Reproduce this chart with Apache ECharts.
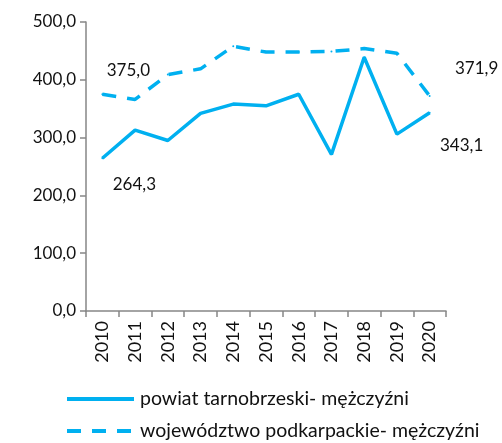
<!DOCTYPE html>
<html>
<head>
<meta charset="utf-8">
<script src="https://cdn.jsdelivr.net/npm/echarts@6/dist/echarts.min.js"></script>
<style>html,body{margin:0;padding:0;background:#fff}#c{width:502px;height:443px}</style>
</head>
<body>
<div id="c"></div>
<script>
const years = ['2010','2011','2012','2013','2014','2015','2016','2017','2018','2019','2020'];
const powiat = [264.3, 313, 295, 342, 358, 355, 375, 271, 439, 306, 343.1];
const wojewodztwo = [375.0, 366, 409, 419, 458, 448, 448, 449, 454, 446, 371.9];
const yTicks = [0, 100, 200, 300, 400, 500];
const seriesNames = ['powiat tarnobrzeski- mężczyźni', 'województwo podkarpackie- mężczyźni'];

const FONT = 'Lato, "Open Sans", sans-serif';
const COLOR = '#00B0F0';
const TEXT = '#111';
const fmt = v => v.toFixed(1).replace('.', ',');

// values labelled at the first and last year of each series
function labelled(values, firstOffset, lastOffset) {
  return values.map((v, i) => {
    if (i === 0 || i === values.length - 1) {
      return {
        value: v,
        label: {
          show: true, position: 'inside',
          offset: i === 0 ? firstOffset : lastOffset,
          formatter: p => fmt(p.value),
          color: TEXT, fontSize: 17, fontFamily: FONT
        }
      };
    }
    return v;
  });
}

function legendRow(name, top) {
  return {
    orient: 'vertical', left: 65, top: top, padding: 0,
    itemWidth: 67, itemHeight: 2,
    lineStyle: { width: 4 },
    textStyle: { fontSize: 19.5, fontFamily: FONT, color: TEXT, padding: [0, 0, 0, 1] },
    data: [name]
  };
}

const chart = echarts.init(document.getElementById('c'));
chart.setOption({
  animation: false,
  grid: { left: 86, right: 56, top: 22, bottom: 132 },
  legend: [legendRow(seriesNames[0], 389), legendRow(seriesNames[1], 421)],
  xAxis: {
    type: 'category', data: years, boundaryGap: true,
    axisLine: { lineStyle: { color: '#868686', width: 1.5 } },
    axisTick: { show: true, length: 6, lineStyle: { color: '#868686', width: 1.5 } },
    axisLabel: { rotate: 90, fontSize: 18, fontFamily: FONT, color: TEXT, margin: 10 }
  },
  yAxis: {
    type: 'value', min: yTicks[0], max: yTicks[yTicks.length - 1], interval: 100,
    splitLine: { show: false },
    axisLine: { show: true, lineStyle: { color: '#868686', width: 1.5 } },
    axisTick: { show: true, length: 6, lineStyle: { color: '#868686', width: 1.5 } },
    axisLabel: { fontSize: 17, fontFamily: FONT, color: TEXT, margin: 10, formatter: fmt }
  },
  series: [
    {
      name: seriesNames[0], type: 'line', symbol: 'circle', symbolSize: 2,
      lineStyle: { color: COLOR, width: 3.5, cap: 'butt' },
      itemStyle: { color: COLOR },
      data: labelled(powiat, [32, 26], [32, 33])
    },
    {
      name: seriesNames[1], type: 'line', symbol: 'circle', symbolSize: 2,
      lineStyle: { color: COLOR, width: 3.5, type: [14, 11] },
      itemStyle: { color: COLOR },
      data: labelled(wojewodztwo, [26, -24], [47, -28])
    }
  ]
});
</script>
</body>
</html>
